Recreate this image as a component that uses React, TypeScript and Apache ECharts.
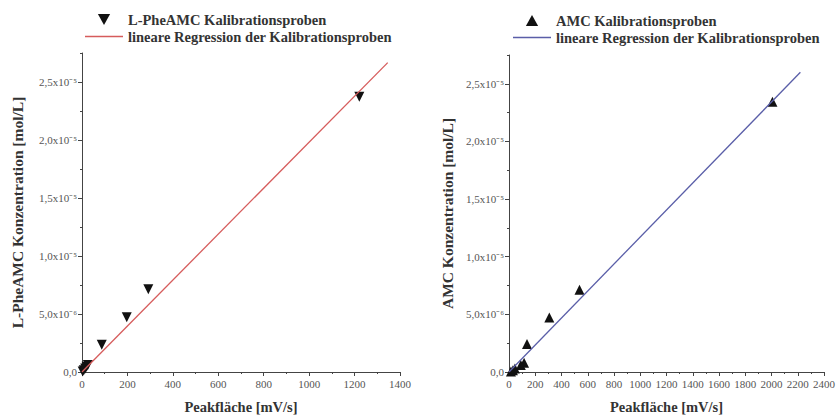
import React, { useEffect, useRef } from "react";
import * as echarts from "echarts";

// ---- data ----
const pheX = [3, 8, 14, 20, 26, 87, 197, 292, 1221];
const pheY = [0.5e-7, 1.5e-7, 3e-7, 4.5e-7, 6e-7, 2.34e-6, 4.72e-6, 7.14e-6, 2.372e-5];
const pheFitX = [0, 1346];
const pheFitY = [0, 2.667e-5];

const amcX = [15, 30, 45, 90, 115, 137, 307, 537, 2007];
const amcY = [0.5e-7, 1.5e-7, 3e-7, 6e-7, 8e-7, 2.43e-6, 4.72e-6, 7.14e-6, 2.344e-5];
const amcFitX = [0, 2220];
const amcFitY = [0, 2.6e-5];

const yTickValues = [0, 5e-6, 1e-5, 1.5e-5, 2e-5, 2.5e-5];
const yTickLabels = ["0,0", "5,0x10⁻⁶", "1,0x10⁻⁵", "1,5x10⁻⁵", "2,0x10⁻⁵", "2,5x10⁻⁵"];
const yMinorValues = [2.5e-6, 7.5e-6, 1.25e-5, 1.75e-5, 2.25e-5, 2.75e-5];

const pheName = "L-PheAMC Kalibrationsproben";
const amcName = "AMC Kalibrationsproben";
const regText = "lineare Regression der Kalibrationsproben";
const leftYTitle = "L-PheAMC Konzentration [mol/L]";
const rightYTitle = "AMC Konzentration [mol/L]";
const xTitle = "Peakfläche [mV/s]";

const FONT = "'Liberation Serif', 'Times New Roman', serif";
const TEXT = "#333";

const ICON_DOWN = "path://M0,0L10,0L5,9Z";
const ICON_UP = "path://M5,0L10,9L0,9Z";
const ICON_LINE = "path://M0,0H38V1.3H0Z";

function yLabel(v: number): string {
  for (let i = 0; i < yTickValues.length; i++) {
    if (Math.abs(v - yTickValues[i]) < 1e-9) return yTickLabels[i];
  }
  return "";
}

function xAxisCfg(gridIndex: number, max: number) {
  return {
    type: "value",
    gridIndex,
    min: 0,
    max,
    interval: 200,
    name: xTitle,
    nameLocation: "middle",
    nameGap: 27,
    nameTextStyle: { fontFamily: FONT, fontWeight: "bold", fontSize: 14.5, color: TEXT },
    axisLine: { show: true, lineStyle: { color: "#444", width: 1 } },
    axisTick: { show: true, length: 4, lineStyle: { color: "#444" } },
    minorTick: { show: true, splitNumber: 2, length: 2, lineStyle: { color: "#444" } },
    splitLine: { show: false },
    axisLabel: {
      fontFamily: FONT,
      fontSize: 11,
      color: "#555",
      margin: 6,
      formatter: (v: number) => String(v),
    },
  };
}

function yMainCfg(gridIndex: number, name: string, nameGap: number) {
  return {
    type: "value",
    gridIndex,
    min: 0,
    max: 2.75e-5,
    interval: 5e-6,
    name,
    nameLocation: "middle",
    nameGap,
    nameTextStyle: { fontFamily: FONT, fontWeight: "bold", fontSize: 15.5, color: TEXT },
    axisLine: { show: true, lineStyle: { color: "#444", width: 1 } },
    axisTick: { show: true, length: 4, customValues: yTickValues, lineStyle: { color: "#444" } },
    splitLine: { show: false },
    axisLabel: {
      fontFamily: FONT,
      fontSize: 11,
      color: "#555",
      margin: 5,
      customValues: yTickValues,
      formatter: (v: number) => yLabel(v),
    },
  };
}

function yMinorCfg(gridIndex: number) {
  return {
    type: "value",
    gridIndex,
    min: 0,
    max: 2.75e-5,
    interval: 2.5e-6,
    position: "left",
    axisLine: { show: false },
    axisTick: { show: true, length: 2, customValues: yMinorValues, lineStyle: { color: "#444" } },
    axisLabel: { show: false },
    splitLine: { show: false },
  };
}

function legendCfg(left: number, top: number, data: any[]) {
  return {
    orient: "vertical",
    left,
    top,
    padding: 0,
    itemWidth: 38,
    itemHeight: 11,
    itemGap: 2,
    symbolKeepAspect: true,
    data,
    formatter: (n: string) => (n.startsWith("fit") ? regText : n),
    textStyle: {
      fontFamily: FONT,
      fontWeight: "bold",
      fontSize: 14.5,
      lineHeight: 15,
      color: TEXT,
    },
  };
}

export default function App() {
  const ref = useRef<HTMLDivElement>(null);
  useEffect(() => {
    if (!ref.current) return;
    const chart = echarts.init(ref.current, undefined, { renderer: "svg" });
    const zip = (xs: number[], ys: number[]) => xs.map((x, i) => [x, ys[i]]);
    chart.setOption({
      animation: false,
      backgroundColor: "#fff",
      grid: [
        { left: 82, top: 53, width: 318, height: 320 },
        { left: 509, top: 55, width: 320, height: 318 },
      ],
      legend: [
        legendCfg(85, 12, [
          { name: pheName, icon: ICON_DOWN },
          { name: "fitPhe", icon: ICON_LINE },
        ]),
        legendCfg(513, 13, [
          { name: amcName, icon: ICON_UP },
          { name: "fitAmc", icon: ICON_LINE },
        ]),
      ],
      xAxis: [xAxisCfg(0, 1400), xAxisCfg(1, 2400)],
      yAxis: [
        yMainCfg(0, leftYTitle, 57),
        yMinorCfg(0),
        yMainCfg(1, rightYTitle, 54),
        yMinorCfg(1),
      ],
      series: [
        {
          name: "fitPhe",
          type: "line",
          xAxisIndex: 0,
          yAxisIndex: 0,
          data: zip(pheFitX, pheFitY),
          symbol: "none",
          showSymbol: false,
          lineStyle: { color: "#d65c5c", width: 1.3 },
          itemStyle: { color: "#d65c5c" },
        },
        {
          name: pheName,
          type: "scatter",
          xAxisIndex: 0,
          yAxisIndex: 0,
          data: zip(pheX, pheY),
          symbol: "triangle",
          symbolRotate: 180,
          symbolSize: 10,
          itemStyle: { color: "#111", opacity: 1 },
        },
        {
          name: "fitAmc",
          type: "line",
          xAxisIndex: 1,
          yAxisIndex: 2,
          data: zip(amcFitX, amcFitY),
          symbol: "none",
          showSymbol: false,
          lineStyle: { color: "#5a5ea8", width: 1.3 },
          itemStyle: { color: "#5a5ea8" },
        },
        {
          name: amcName,
          type: "scatter",
          xAxisIndex: 1,
          yAxisIndex: 2,
          data: zip(amcX, amcY),
          symbol: "triangle",
          symbolSize: 10,
          itemStyle: { color: "#111", opacity: 1 },
        },
      ],
    });
    return () => chart.dispose();
  }, []);
  return (
    <div
      ref={ref}
      style={{ position: "fixed", left: 0, top: 0, width: 838, height: 419 }}
    />
  );
}
